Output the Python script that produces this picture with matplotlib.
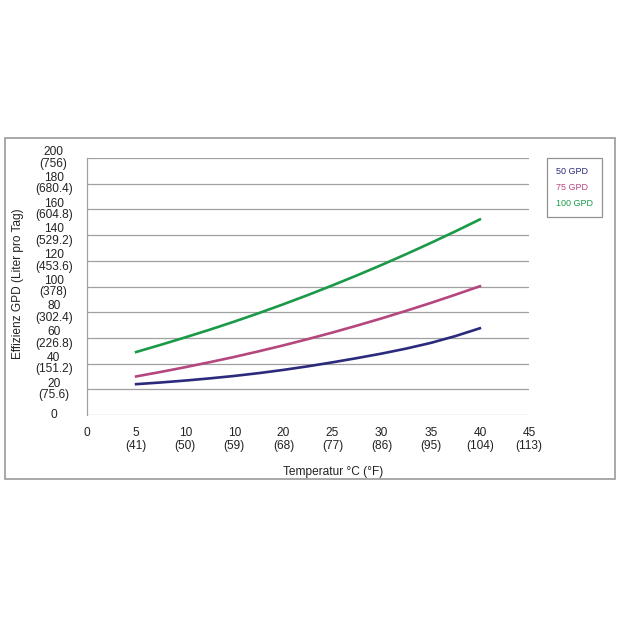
import matplotlib
matplotlib.use("Agg")
import matplotlib.pyplot as plt
from matplotlib.patches import Rectangle

plt.rcParams['font.family'] = ['Liberation Sans', 'DejaVu Sans']

# data (every 2.5 degC)
temp_c = [5, 7.5, 10, 12.5, 15, 17.5, 20, 22.5, 25, 27.5, 30, 32.5, 35, 37.5, 40]
gpd_50 = [24, 25.3, 26.8, 28.5, 30.4, 32.6, 35.1, 37.9, 41, 44.3, 47.8, 51.7, 56.1, 61.4, 67.5]
gpd_75 = [30, 33.5, 37.2, 41.1, 45.2, 49.6, 54.2, 59.1, 64.2, 69.6, 75.2, 81.1, 87.2, 93.6, 100.2]
gpd_100 = [49, 54.6, 60.4, 66.4, 72.7, 79.3, 86.2, 93.4, 100.9, 108.7, 116.8, 125.2, 133.9, 142.9, 152.2]

xticks = [0, 5, 10, 15, 20, 25, 30, 35, 40, 45]
xlabels = ['0', '5\n(41)', '10\n(50)', '10\n(59)', '20\n(68)', '25\n(77)',
           '30\n(86)', '35\n(95)', '40\n(104)', '45\n(113)']
yticks = [0, 20, 40, 60, 80, 100, 120, 140, 160, 180, 200]
ylabels = ['0', '20\n(75.6)', '40\n(151.2)', '60\n(226.8)', '80\n(302.4)',
           '100\n(378)', '120\n(453.6)', '140\n(529.2)', '160\n(604.8)',
           '180\n(680.4)', '200\n(756)']

c50 = '#2b2a7c'
c75 = '#b5477f'
c100 = '#1a9a48'

W = 620.0
fig = plt.figure(figsize=(6.2, 6.2), dpi=100)
fig.patch.set_facecolor('white')

# outer frame
fig.patches.append(Rectangle((5 / W, 1 - 479 / W), 610 / W, 341 / W,
                             transform=fig.transFigure, fill=False,
                             edgecolor='#9a9a9a', linewidth=1.2))

ax = fig.add_axes([87 / W, 1 - 415 / W, 442 / W, 257 / W])
ax.plot(temp_c, gpd_50, color=c50, lw=1.9, label='50 GPD')
ax.plot(temp_c, gpd_75, color=c75, lw=1.9, label='75 GPD')
ax.plot(temp_c, gpd_100, color=c100, lw=1.9, label='100 GPD')

ax.set_xlim(0, 45)
ax.set_ylim(0, 200)
ax.set_xticks(xticks)
ax.set_xticklabels(xlabels, fontsize=8.6, color='#222222', linespacing=1.05)
ax.set_yticks(yticks)
ax.set_yticklabels(ylabels, fontsize=8.6, color='#222222', ha='center',
                   va='center', linespacing=0.95)
ax.tick_params(axis='y', length=0, pad=24)
ax.tick_params(axis='x', length=0, pad=9)

ax.grid(axis='y', color='#a0a0a0', lw=0.9)
ax.set_axisbelow(True)
for s in ['top', 'right', 'bottom']:
    ax.spines[s].set_visible(False)
ax.spines['left'].set_color('#a0a0a0')
ax.spines['left'].set_linewidth(0.9)

ax.set_xlabel('Temperatur °C (°F)', fontsize=8.6, color='#222222')
ax.xaxis.set_label_coords((333 - 87) / 442, -(466 - 415) / 257)
ax.set_ylabel('Effizienz GPD (Liter pro Tag)', fontsize=8.6, color='#222222')
ax.yaxis.set_label_coords((24 - 87) / 442, (415 - 284) / 257)

leg = ax.legend(loc='upper left', bbox_to_anchor=(547 / W, 1 - 158 / W),
                bbox_transform=fig.transFigure, fontsize=6.5,
                handlelength=0, handletextpad=0, labelcolor='linecolor',
                fancybox=False, edgecolor='#777777', borderpad=1.0,
                labelspacing=0.75, borderaxespad=0)
for h in leg.legend_handles:
    h.set_visible(False)
leg.get_frame().set_linewidth(0.9)

fig.savefig('out.png', dpi=100, facecolor='white')
